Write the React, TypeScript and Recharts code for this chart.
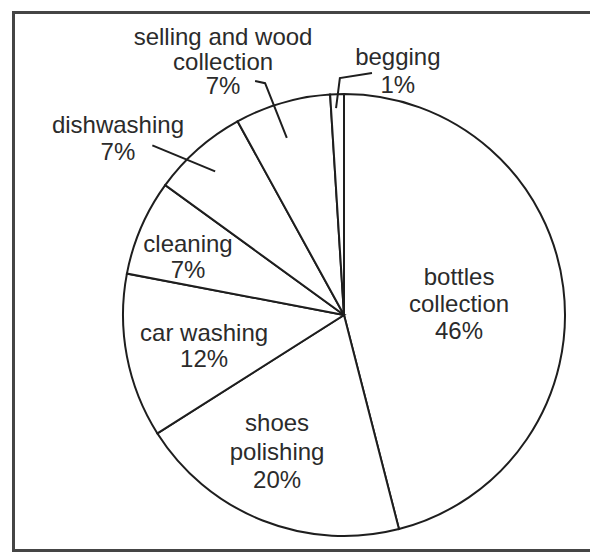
import React from "react";
import { PieChart, Pie, Cell } from "recharts";

const categories = [
  "bottles collection",
  "shoes polishing",
  "car washing",
  "cleaning",
  "dishwashing",
  "selling and wood collection",
  "begging",
];
const shares = [46, 20, 12, 7, 7, 7, 1];
const labelLines = [
  ["bottles", "collection", "46%"],
  ["shoes", "polishing", "20%"],
  ["car washing", "12%"],
  ["cleaning", "7%"],
  ["dishwashing", "7%"],
  ["selling and wood", "collection", "7%"],
  ["begging", "1%"],
];

const data = categories.map((name, i) => ({ name, value: shares[i], lines: labelLines[i] }));

// label layout: polar offsets relative to each slice's mid angle (deg, radius fraction)
type LabelLayout = {
  text: [number, number];
  lh: number;
  leader?: [number, number][];
};
const layouts: LabelLayout[] = [
  { text: [-1.7, 0.523], lh: 27 },
  { text: [-4.6, 0.686], lh: 28.5 },
  { text: [1.5, 0.648], lh: 25.5 },
  { text: [3.0, 0.753], lh: 26 },
  { text: [10.6, 1.298], lh: 27, leader: [[0.5, 0.873], [7.1, 1.158]] },
  { text: [9.3, 1.271], lh: 24.5, leader: [[1.7, 0.842], [2.6, 1.108], [4.6, 1.133]] },
  { text: [-14.2, 1.135], lh: 28, leader: [[0.4, 0.937], [-0.8, 1.072], [-8.4, 1.102]] },
];

const RAD = Math.PI / 180;
const polar = (cx: number, cy: number, r: number, deg: number) => ({
  x: cx + r * Math.cos(-deg * RAD),
  y: cy + r * Math.sin(-deg * RAD),
});

const renderLabel = (props: any) => {
  const { cx, cy, midAngle, outerRadius, index } = props;
  const lay = layouts[index];
  const lines: string[] = data[index].lines;
  const c = polar(cx, cy, outerRadius * lay.text[1], midAngle + lay.text[0]);
  const n = lines.length;
  return (
    <g key={`lbl-${index}`}>
      {lay.leader && (
        <polyline
          points={lay.leader
            .map(([da, rf]) => {
              const p = polar(cx, cy, outerRadius * rf, midAngle + da);
              return `${p.x},${p.y}`;
            })
            .join(" ")}
          fill="none"
          stroke="#1e1e1e"
          strokeWidth={2}
        />
      )}
      {lines.map((t, i) => (
        <text
          key={i}
          x={c.x}
          y={c.y + (i - (n - 1) / 2) * lay.lh}
          textAnchor="middle"
          dominantBaseline="central"
          fill="#2b2b2b"
          fontSize={24}
          fontFamily="'Liberation Sans', Arial, sans-serif"
        >
          {t}
        </text>
      ))}
    </g>
  );
};

export default function App() {
  return (
    <div
      style={{
        position: "fixed",
        left: 0,
        top: 0,
        width: 590,
        height: 552,
        overflow: "hidden",
        background: "#fff",
      }}
    >
      <div
        style={{
          position: "absolute",
          left: 12,
          top: 11,
          width: 700,
          height: 535,
          border: "3px solid #454545",
        }}
      />
      <div style={{ position: "absolute", left: 0, top: 0 }}>
        <PieChart width={590} height={552} margin={{ top: 0, right: 0, bottom: 0, left: 0 }}>
          <Pie
            data={data}
            dataKey="value"
            nameKey="name"
            cx={344}
            cy={315}
            outerRadius={221}
            startAngle={90}
            endAngle={-270}
            stroke="#1e1e1e"
            strokeWidth={2}
            label={renderLabel}
            labelLine={false}
            isAnimationActive={false}
          >
            {data.map((d) => (
              <Cell key={d.name} fill="#ffffff" />
            ))}
          </Pie>
        </PieChart>
      </div>
    </div>
  );
}
